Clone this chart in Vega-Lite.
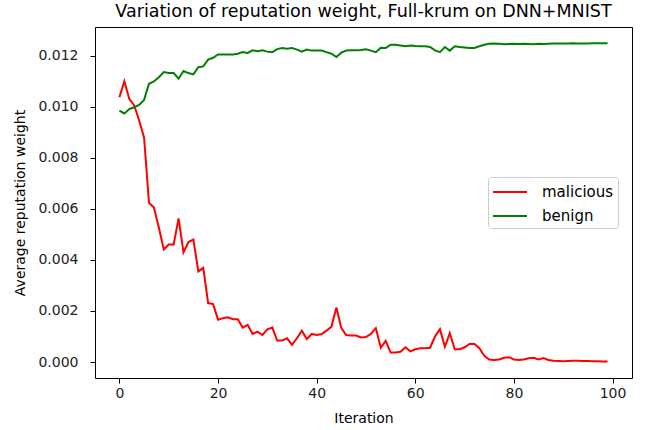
{
  "$schema": "https://vega.github.io/schema/vega-lite/v6.json",
  "width": 537,
  "height": 351,
  "autosize": "none",
  "padding": {"left": 95, "top": 27, "right": 30, "bottom": 52},
  "background": "white",
  "config": {
    "view": {"stroke": "#000", "strokeWidth": 1},
    "font": "DejaVu Sans",
    "axis": {"grid": false, "domain": false, "tickColor": "#000", "tickSize": 5, "labelFontSize": 14, "titleFontSize": 14, "titleFontWeight": "normal", "labelColor": "#222", "titleColor": "#000", "labelFont": "DejaVu Sans", "titleFont": "DejaVu Sans"}
  },
  "title": {"text": "Variation of reputation weight, Full-krum on DNN+MNIST", "fontSize": 17.5, "fontWeight": "normal", "color": "#000", "offset": 7, "anchor": "middle", "font": "DejaVu Sans"},
  "data": {"values": [
    {"i":0,"s":"malicious","v":0.01037},{"i":1,"s":"malicious","v":0.0110},{"i":2,"s":"malicious","v":0.01031},{"i":3,"s":"malicious","v":0.01005},{"i":4,"s":"malicious","v":0.00946},
    {"i":5,"s":"malicious","v":0.0088},{"i":6,"s":"malicious","v":0.00624},{"i":7,"s":"malicious","v":0.00605},{"i":8,"s":"malicious","v":0.00526},{"i":9,"s":"malicious","v":0.00441},
    {"i":10,"s":"malicious","v":0.0046},{"i":11,"s":"malicious","v":0.0046},{"i":12,"s":"malicious","v":0.00563},{"i":13,"s":"malicious","v":0.0043},{"i":14,"s":"malicious","v":0.0047},
    {"i":15,"s":"malicious","v":0.0048},{"i":16,"s":"malicious","v":0.00355},{"i":17,"s":"malicious","v":0.00369},{"i":18,"s":"malicious","v":0.00231},{"i":19,"s":"malicious","v":0.00227},
    {"i":20,"s":"malicious","v":0.00166},{"i":21,"s":"malicious","v":0.00172},{"i":22,"s":"malicious","v":0.00175},{"i":23,"s":"malicious","v":0.00168},{"i":24,"s":"malicious","v":0.00168},
    {"i":25,"s":"malicious","v":0.00135},{"i":26,"s":"malicious","v":0.00146},{"i":27,"s":"malicious","v":0.0011},{"i":28,"s":"malicious","v":0.00119},{"i":29,"s":"malicious","v":0.00106},
    {"i":30,"s":"malicious","v":0.00128},{"i":31,"s":"malicious","v":0.00135},{"i":32,"s":"malicious","v":0.00084},{"i":33,"s":"malicious","v":0.00084},{"i":34,"s":"malicious","v":0.00093},
    {"i":35,"s":"malicious","v":0.00067},{"i":36,"s":"malicious","v":0.00093},{"i":37,"s":"malicious","v":0.00123},{"i":38,"s":"malicious","v":0.0009},{"i":39,"s":"malicious","v":0.0011},
    {"i":40,"s":"malicious","v":0.00106},{"i":41,"s":"malicious","v":0.0011},{"i":42,"s":"malicious","v":0.00123},{"i":43,"s":"malicious","v":0.00139},{"i":44,"s":"malicious","v":0.00214},
    {"i":45,"s":"malicious","v":0.00133},{"i":46,"s":"malicious","v":0.00106},{"i":47,"s":"malicious","v":0.00104},{"i":48,"s":"malicious","v":0.00104},{"i":49,"s":"malicious","v":0.00096},
    {"i":50,"s":"malicious","v":0.00098},{"i":51,"s":"malicious","v":0.0011},{"i":52,"s":"malicious","v":0.00133},{"i":53,"s":"malicious","v":0.00056},{"i":54,"s":"malicious","v":0.00083},
    {"i":55,"s":"malicious","v":0.00037},{"i":56,"s":"malicious","v":0.00037},{"i":57,"s":"malicious","v":0.0004},{"i":58,"s":"malicious","v":0.00058},{"i":59,"s":"malicious","v":0.00042},
    {"i":60,"s":"malicious","v":0.0005},{"i":61,"s":"malicious","v":0.00054},{"i":62,"s":"malicious","v":0.00054},{"i":63,"s":"malicious","v":0.00056},{"i":64,"s":"malicious","v":0.001},
    {"i":65,"s":"malicious","v":0.00129},{"i":66,"s":"malicious","v":0.0006},{"i":67,"s":"malicious","v":0.00113},{"i":68,"s":"malicious","v":0.0005},{"i":69,"s":"malicious","v":0.0005},
    {"i":70,"s":"malicious","v":0.00058},{"i":71,"s":"malicious","v":0.00071},{"i":72,"s":"malicious","v":0.00071},{"i":73,"s":"malicious","v":0.00054},{"i":74,"s":"malicious","v":0.00024},
    {"i":75,"s":"malicious","v":0.0001},{"i":76,"s":"malicious","v":0.00008},{"i":77,"s":"malicious","v":0.0001},{"i":78,"s":"malicious","v":0.00017},{"i":79,"s":"malicious","v":0.00019},
    {"i":80,"s":"malicious","v":0.0001},{"i":81,"s":"malicious","v":0.00008},{"i":82,"s":"malicious","v":0.0001},{"i":83,"s":"malicious","v":0.00015},{"i":84,"s":"malicious","v":0.00017},
    {"i":85,"s":"malicious","v":0.0001},{"i":86,"s":"malicious","v":0.00016},{"i":87,"s":"malicious","v":0.00008},{"i":88,"s":"malicious","v":0.00005},{"i":89,"s":"malicious","v":0.00004},
    {"i":90,"s":"malicious","v":0.00003},{"i":91,"s":"malicious","v":0.00004},{"i":92,"s":"malicious","v":0.00005},{"i":93,"s":"malicious","v":0.00005},{"i":94,"s":"malicious","v":0.00004},
    {"i":95,"s":"malicious","v":0.00004},{"i":96,"s":"malicious","v":0.00003},{"i":97,"s":"malicious","v":0.00003},{"i":98,"s":"malicious","v":0.00002},{"i":99,"s":"malicious","v":0.00002},
    {"i":0,"s":"benign","v":0.00985},{"i":1,"s":"benign","v":0.00974},{"i":2,"s":"benign","v":0.00991},{"i":3,"s":"benign","v":0.00998},{"i":4,"s":"benign","v":0.01007},
    {"i":5,"s":"benign","v":0.01027},{"i":6,"s":"benign","v":0.0109},{"i":7,"s":"benign","v":0.01099},{"i":8,"s":"benign","v":0.01116},{"i":9,"s":"benign","v":0.01136},
    {"i":10,"s":"benign","v":0.01132},{"i":11,"s":"benign","v":0.01132},{"i":12,"s":"benign","v":0.0111},{"i":13,"s":"benign","v":0.0114},{"i":14,"s":"benign","v":0.01132},
    {"i":15,"s":"benign","v":0.01127},{"i":16,"s":"benign","v":0.01155},{"i":17,"s":"benign","v":0.01158},{"i":18,"s":"benign","v":0.01185},{"i":19,"s":"benign","v":0.01192},
    {"i":20,"s":"benign","v":0.01205},{"i":21,"s":"benign","v":0.01205},{"i":22,"s":"benign","v":0.01205},{"i":23,"s":"benign","v":0.01205},{"i":24,"s":"benign","v":0.01208},
    {"i":25,"s":"benign","v":0.01214},{"i":26,"s":"benign","v":0.01211},{"i":27,"s":"benign","v":0.01221},{"i":28,"s":"benign","v":0.01218},{"i":29,"s":"benign","v":0.01221},
    {"i":30,"s":"benign","v":0.01216},{"i":31,"s":"benign","v":0.01214},{"i":32,"s":"benign","v":0.01226},{"i":33,"s":"benign","v":0.0123},{"i":34,"s":"benign","v":0.01227},
    {"i":35,"s":"benign","v":0.0123},{"i":36,"s":"benign","v":0.01224},{"i":37,"s":"benign","v":0.01216},{"i":38,"s":"benign","v":0.01224},{"i":39,"s":"benign","v":0.0122},
    {"i":40,"s":"benign","v":0.0122},{"i":41,"s":"benign","v":0.0122},{"i":42,"s":"benign","v":0.01214},{"i":43,"s":"benign","v":0.01208},{"i":44,"s":"benign","v":0.01195},
    {"i":45,"s":"benign","v":0.01212},{"i":46,"s":"benign","v":0.0122},{"i":47,"s":"benign","v":0.01221},{"i":48,"s":"benign","v":0.01221},{"i":49,"s":"benign","v":0.01222},
    {"i":50,"s":"benign","v":0.01225},{"i":51,"s":"benign","v":0.0122},{"i":52,"s":"benign","v":0.01214},{"i":53,"s":"benign","v":0.01231},{"i":54,"s":"benign","v":0.0123},
    {"i":55,"s":"benign","v":0.01243},{"i":56,"s":"benign","v":0.01243},{"i":57,"s":"benign","v":0.0124},{"i":58,"s":"benign","v":0.01237},{"i":59,"s":"benign","v":0.0124},
    {"i":60,"s":"benign","v":0.01238},{"i":61,"s":"benign","v":0.01237},{"i":62,"s":"benign","v":0.01237},{"i":63,"s":"benign","v":0.01234},{"i":64,"s":"benign","v":0.01221},
    {"i":65,"s":"benign","v":0.01214},{"i":66,"s":"benign","v":0.01234},{"i":67,"s":"benign","v":0.0122},{"i":68,"s":"benign","v":0.01237},{"i":69,"s":"benign","v":0.01234},
    {"i":70,"s":"benign","v":0.01232},{"i":71,"s":"benign","v":0.0123},{"i":72,"s":"benign","v":0.0123},{"i":73,"s":"benign","v":0.01237},{"i":74,"s":"benign","v":0.01243},
    {"i":75,"s":"benign","v":0.01247},{"i":76,"s":"benign","v":0.01248},{"i":77,"s":"benign","v":0.01247},{"i":78,"s":"benign","v":0.01245},{"i":79,"s":"benign","v":0.01246},
    {"i":80,"s":"benign","v":0.01247},{"i":81,"s":"benign","v":0.01246},{"i":82,"s":"benign","v":0.01247},{"i":83,"s":"benign","v":0.01246},{"i":84,"s":"benign","v":0.01245},
    {"i":85,"s":"benign","v":0.01247},{"i":86,"s":"benign","v":0.01246},{"i":87,"s":"benign","v":0.01247},{"i":88,"s":"benign","v":0.01248},{"i":89,"s":"benign","v":0.01248},
    {"i":90,"s":"benign","v":0.01248},{"i":91,"s":"benign","v":0.01248},{"i":92,"s":"benign","v":0.01249},{"i":93,"s":"benign","v":0.01248},{"i":94,"s":"benign","v":0.01248},
    {"i":95,"s":"benign","v":0.01248},{"i":96,"s":"benign","v":0.01249},{"i":97,"s":"benign","v":0.01249},{"i":98,"s":"benign","v":0.01249},{"i":99,"s":"benign","v":0.01249}
  ]},
  "mark": {"type": "line", "strokeWidth": 2, "interpolate": "linear", "clip": true},
  "encoding": {
    "x": {"field": "i", "type": "quantitative", "scale": {"domain": [-4.95, 103.95], "nice": false, "zero": false},
      "axis": {"values": [0, 20, 40, 60, 80, 100], "title": "Iteration", "labelPadding": 3, "titlePadding": 11}},
    "y": {"field": "v", "type": "quantitative", "scale": {"domain": [-0.000625, 0.013125], "nice": false, "zero": false},
      "axis": {"values": [0, 0.002, 0.004, 0.006, 0.008, 0.01, 0.012], "format": ".3f", "title": "Average reputation weight", "labelPadding": 12, "titlePadding": 10}},
    "color": {"field": "s", "type": "nominal", "sort": ["malicious", "benign"],
      "scale": {"domain": ["malicious", "benign"], "range": ["#ff0000", "#008000"]},
      "legend": {"title": null, "orient": "none", "legendX": 393, "legendY": 150, "strokeColor": "#cccccc", "cornerRadius": 3, "padding": 4, "fillColor": "white",
        "symbolType": "M-1,0H2.4", "symbolSize": 400, "symbolStrokeWidth": 2, "labelFontSize": 15, "labelColor": "#000", "labelFont": "DejaVu Sans", "labelOffset": 28, "rowPadding": 5}}
  }
}
